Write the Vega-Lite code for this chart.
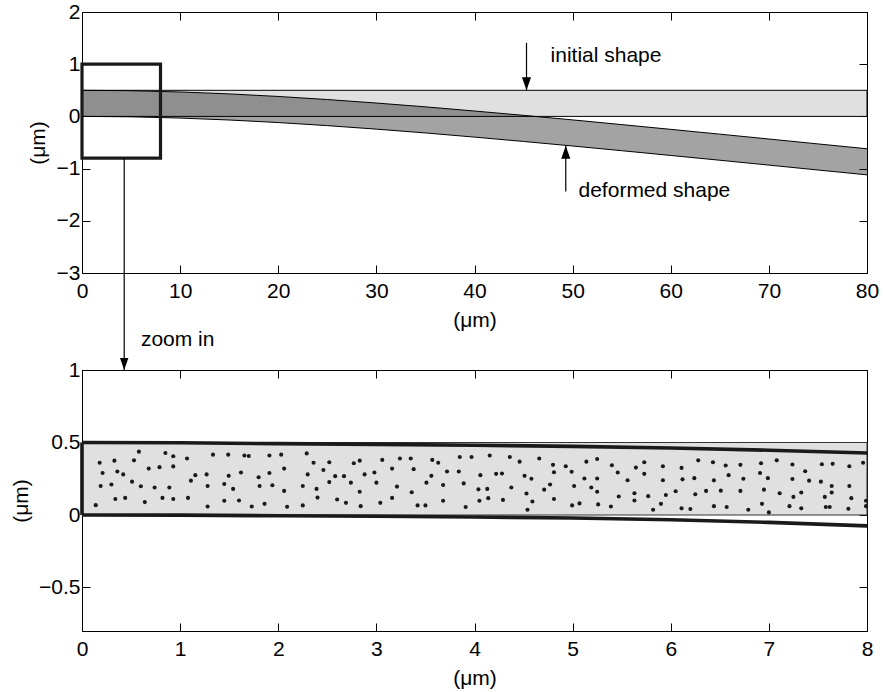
{
  "$schema": "https://vega.github.io/schema/vega-lite/v6.json",
  "background": "white",
  "padding": {"left": 10, "top": 1, "right": 2, "bottom": 2},
  "bounds": "flush",
  "spacing": 97,
  "datasets": {
    "topInitial": [{"x": 0, "x2": 80, "y": 0, "y2": 0.5}],
    "zoomBox": [{"x": 0, "x2": 8, "y": -0.8, "y2": 1}],
    "topBand": [
      {"x": 0, "y": 0, "y2": 0.5}, {"x": 5, "y": -0.008, "y2": 0.492}, {"x": 10, "y": -0.032, "y2": 0.468},
      {"x": 15, "y": -0.069, "y2": 0.431}, {"x": 20, "y": -0.118, "y2": 0.382}, {"x": 25, "y": -0.177, "y2": 0.323},
      {"x": 30, "y": -0.244, "y2": 0.256}, {"x": 35, "y": -0.317, "y2": 0.183}, {"x": 40, "y": -0.397, "y2": 0.103},
      {"x": 45, "y": -0.48, "y2": 0.02}, {"x": 50, "y": -0.567, "y2": -0.067}, {"x": 55, "y": -0.657, "y2": -0.157},
      {"x": 60, "y": -0.748, "y2": -0.248}, {"x": 65, "y": -0.84, "y2": -0.34}, {"x": 70, "y": -0.933, "y2": -0.433},
      {"x": 75, "y": -1.027, "y2": -0.527}, {"x": 80, "y": -1.12, "y2": -0.62}
    ],
    "topLines": [
      {"part": "lower", "x": 0, "y": 0}, {"part": "lower", "x": 5, "y": -0.008}, {"part": "lower", "x": 10, "y": -0.032},
      {"part": "lower", "x": 15, "y": -0.069}, {"part": "lower", "x": 20, "y": -0.118}, {"part": "lower", "x": 25, "y": -0.177},
      {"part": "lower", "x": 30, "y": -0.244}, {"part": "lower", "x": 35, "y": -0.317}, {"part": "lower", "x": 40, "y": -0.397},
      {"part": "lower", "x": 45, "y": -0.48}, {"part": "lower", "x": 50, "y": -0.567}, {"part": "lower", "x": 55, "y": -0.657},
      {"part": "lower", "x": 60, "y": -0.748}, {"part": "lower", "x": 65, "y": -0.84}, {"part": "lower", "x": 70, "y": -0.933},
      {"part": "lower", "x": 75, "y": -1.027}, {"part": "lower", "x": 80, "y": -1.12},
      {"part": "upper", "x": 0, "y": 0.5}, {"part": "upper", "x": 5, "y": 0.492}, {"part": "upper", "x": 10, "y": 0.468},
      {"part": "upper", "x": 15, "y": 0.431}, {"part": "upper", "x": 20, "y": 0.382}, {"part": "upper", "x": 25, "y": 0.323},
      {"part": "upper", "x": 30, "y": 0.256}, {"part": "upper", "x": 35, "y": 0.183}, {"part": "upper", "x": 40, "y": 0.103},
      {"part": "upper", "x": 45, "y": 0.02}, {"part": "upper", "x": 50, "y": -0.067}, {"part": "upper", "x": 55, "y": -0.157},
      {"part": "upper", "x": 60, "y": -0.248}, {"part": "upper", "x": 65, "y": -0.34}, {"part": "upper", "x": 70, "y": -0.433},
      {"part": "upper", "x": 75, "y": -0.527}, {"part": "upper", "x": 80, "y": -0.62}
    ],
    "topArrows": [
      {"x": 45.3, "y": 1.41, "y2": 0.5},
      {"x": 49.3, "y": -1.44, "y2": -0.56},
      {"x": 4.3, "y": -0.8, "y2": -4.858}
    ],
    "topHeads": [
      {"x": 45.3, "y": 0.5, "dir": "down"},
      {"x": 49.3, "y": -0.56, "dir": "up"}
    ],
    "topText": [
      {"x": 47.75, "y": 1.05, "text": "initial shape"},
      {"x": 50.6, "y": -1.54, "text": "deformed shape"}
    ],
    "botInitial": [{"x": 0, "x2": 8, "y": 0, "y2": 0.5}],
    "botLines": [
      {"part": "lower", "x": 0, "y": 0}, {"part": "lower", "x": 1, "y": -0.001}, {"part": "lower", "x": 2, "y": -0.005},
      {"part": "lower", "x": 3, "y": -0.009}, {"part": "lower", "x": 4, "y": -0.014}, {"part": "lower", "x": 5, "y": -0.021},
      {"part": "lower", "x": 6, "y": -0.033}, {"part": "lower", "x": 7, "y": -0.051}, {"part": "lower", "x": 8, "y": -0.075},
      {"part": "upper", "x": 0, "y": 0.5}, {"part": "upper", "x": 1, "y": 0.498}, {"part": "upper", "x": 2, "y": 0.492},
      {"part": "upper", "x": 3, "y": 0.487}, {"part": "upper", "x": 4, "y": 0.481}, {"part": "upper", "x": 5, "y": 0.473},
      {"part": "upper", "x": 6, "y": 0.462}, {"part": "upper", "x": 7, "y": 0.447}, {"part": "upper", "x": 8, "y": 0.428}
    ],
    "botEdge": [{"x": 0, "y": 0, "y2": 0.5}],
    "botHeads": [{"x": 0.43, "y": 1, "dir": "down"}],
    "botText": [{"x": 0.6, "y": 1.164, "text": "zoom in"}],
    "dots": [
      {"x":0.14,"y":0.068},{"x":0.18,"y":0.36},{"x":0.21,"y":0.29},{"x":0.19,"y":0.2},{"x":0.3,"y":0.21},{"x":0.33,"y":0.375},
      {"x":0.34,"y":0.11},{"x":0.36,"y":0.3},{"x":0.42,"y":0.28},{"x":0.44,"y":0.118},{"x":0.51,"y":0.23},{"x":0.53,"y":0.377},
      {"x":0.58,"y":0.437},{"x":0.6,"y":0.198},{"x":0.64,"y":0.089},{"x":0.68,"y":0.32},{"x":0.74,"y":0.19},{"x":0.79,"y":0.33},
      {"x":0.82,"y":0.118},{"x":0.85,"y":0.428},{"x":0.89,"y":0.19},{"x":0.93,"y":0.405},{"x":0.93,"y":0.335},{"x":0.93,"y":0.11},
      {"x":1.07,"y":0.39},{"x":1.08,"y":0.118},{"x":1.11,"y":0.237},{"x":1.155,"y":0.275},{"x":1.27,"y":0.28},{"x":1.28,"y":0.2},
      {"x":1.28,"y":0.059},{"x":1.335,"y":0.416},{"x":1.45,"y":0.214},{"x":1.45,"y":0.098},{"x":1.49,"y":0.416},{"x":1.495,"y":0.27},
      {"x":1.54,"y":0.18},{"x":1.6,"y":0.1},{"x":1.62,"y":0.293},{"x":1.655,"y":0.41},{"x":1.7,"y":0.407},{"x":1.73,"y":0.059},
      {"x":1.8,"y":0.26},{"x":1.81,"y":0.2},{"x":1.86,"y":0.077},{"x":1.91,"y":0.41},{"x":1.91,"y":0.29},{"x":1.94,"y":0.205},
      {"x":2.03,"y":0.416},{"x":2.06,"y":0.32},{"x":2.06,"y":0.166},{"x":2.09,"y":0.057},
      {"x":2.29,"y":0.425},{"x":2.36,"y":0.36},{"x":2.52,"y":0.364},{"x":2.46,"y":0.31},{"x":2.3,"y":0.28},{"x":2.58,"y":0.268},
      {"x":2.67,"y":0.268},{"x":2.25,"y":0.2},{"x":2.39,"y":0.18},{"x":2.52,"y":0.227},{"x":2.74,"y":0.223},{"x":2.25,"y":0.066},
      {"x":2.4,"y":0.12},{"x":2.6,"y":0.107},{"x":2.69,"y":0.084},{"x":2.84,"y":0.061},{"x":2.77,"y":0.357},{"x":2.83,"y":0.375},
      {"x":2.83,"y":0.16},{"x":2.88,"y":0.28},{"x":2.98,"y":0.293},{"x":3.0,"y":0.223},{"x":3.04,"y":0.084},{"x":3.06,"y":0.38},
      {"x":3.16,"y":0.32},{"x":3.21,"y":0.196},{"x":3.16,"y":0.118},{"x":3.24,"y":0.39},{"x":3.35,"y":0.39},{"x":3.38,"y":0.316},
      {"x":3.36,"y":0.157},{"x":3.42,"y":0.066},{"x":3.5,"y":0.066},{"x":3.51,"y":0.223},{"x":3.56,"y":0.27},{"x":3.57,"y":0.38},
      {"x":3.63,"y":0.36},{"x":3.68,"y":0.207},{"x":3.68,"y":0.098},{"x":3.72,"y":0.3},{"x":3.84,"y":0.3},{"x":3.85,"y":0.4},
      {"x":3.89,"y":0.218},{"x":3.91,"y":0.055},{"x":3.97,"y":0.4},{"x":4.04,"y":0.177},{"x":4.05,"y":0.098},{"x":4.06,"y":0.275},
      {"x":4.13,"y":0.18},{"x":4.14,"y":0.116},{"x":4.155,"y":0.41},{"x":4.22,"y":0.284},{"x":4.28,"y":0.286},{"x":4.29,"y":0.104},
      {"x":4.36,"y":0.4},{"x":4.375,"y":0.19},{"x":4.46,"y":0.368},{"x":4.51,"y":0.27},{"x":4.58,"y":0.25},{"x":4.53,"y":0.148},
      {"x":4.59,"y":0.093},{"x":4.54,"y":0.036},{"x":4.66,"y":0.39},{"x":4.71,"y":0.175},{"x":4.77,"y":0.21},{"x":4.8,"y":0.346},
      {"x":4.81,"y":0.295},{"x":4.81,"y":0.11},{"x":4.93,"y":0.336},{"x":4.99,"y":0.298},{"x":5.015,"y":0.2},{"x":4.995,"y":0.066},
      {"x":5.07,"y":0.08},{"x":5.12,"y":0.252},{"x":5.14,"y":0.368},{"x":5.19,"y":0.19},{"x":5.25,"y":0.386},{"x":5.25,"y":0.252},
      {"x":5.25,"y":0.16},{"x":5.26,"y":0.073},
      {"x":5.4,"y":0.343},{"x":5.46,"y":0.293},{"x":5.56,"y":0.24},{"x":5.39,"y":0.059},{"x":5.47,"y":0.128},{"x":5.645,"y":0.327},
      {"x":5.73,"y":0.364},{"x":5.73,"y":0.284},{"x":5.63,"y":0.15},{"x":5.63,"y":0.1},{"x":5.77,"y":0.13},{"x":5.82,"y":0.036},
      {"x":5.9,"y":0.077},{"x":5.92,"y":0.336},{"x":5.92,"y":0.24},{"x":5.95,"y":0.138},{"x":6.05,"y":0.164},{"x":6.11,"y":0.325},
      {"x":6.12,"y":0.246},{"x":6.11,"y":0.046},{"x":6.2,"y":0.041},{"x":6.24,"y":0.254},{"x":6.25,"y":0.143},{"x":6.28,"y":0.377},
      {"x":6.36,"y":0.166},{"x":6.43,"y":0.364},{"x":6.44,"y":0.239},{"x":6.44,"y":0.061},{"x":6.51,"y":0.168},{"x":6.56,"y":0.341},
      {"x":6.59,"y":0.275},{"x":6.57,"y":0.055},{"x":6.71,"y":0.346},{"x":6.71,"y":0.166},{"x":6.74,"y":0.25},{"x":6.79,"y":0.036},
      {"x":6.92,"y":0.357},{"x":6.91,"y":0.29},{"x":6.95,"y":0.175},{"x":6.93,"y":0.077},{"x":6.99,"y":0.254},{"x":7.0,"y":0.018},
      {"x":7.08,"y":0.377},{"x":7.11,"y":0.15},{"x":7.21,"y":0.061},{"x":7.24,"y":0.348},{"x":7.24,"y":0.248},{"x":7.25,"y":0.125},
      {"x":7.33,"y":0.155},{"x":7.33,"y":0.046},{"x":7.37,"y":0.302},{"x":7.41,"y":0.237},{"x":7.53,"y":0.23},{"x":7.54,"y":0.35},
      {"x":7.65,"y":0.353},{"x":7.64,"y":0.2},{"x":7.64,"y":0.155},{"x":7.57,"y":0.125},{"x":7.58,"y":0.055},{"x":7.62,"y":0.055},
      {"x":7.82,"y":0.336},{"x":7.82,"y":0.2},{"x":7.84,"y":0.116},{"x":7.81,"y":0.043},{"x":7.96,"y":0.36},{"x":7.99,"y":0.098},
      {"x":7.99,"y":0.061}
    ]
  },
  "vconcat": [
    {
      "width": 785,
      "height": 261,
      "layer": [
        {
          "encoding": {
            "x": {"field": "x", "type": "quantitative", "scale": {"domain": [0, 80]},
                  "axis": {"orient": "bottom", "values": [0, 10, 20, 30, 40, 50, 60, 70, 80], "title": "(μm)", "labelPadding": 15, "titlePadding": 8}},
            "y": {"field": "y", "type": "quantitative", "scale": {"domain": [-3, 2]},
                  "axis": {"orient": "left", "values": [-3, -2, -1, 0, 1, 2], "title": "(μm)", "labelPadding": 10, "titlePadding": 8}}
          },
          "layer": [
            {"data": {"name": "topInitial"}, "mark": {"type": "rect", "fill": "#e0e0e0", "stroke": "#000", "strokeWidth": 1},
             "encoding": {"x2": {"field": "x2"}, "y2": {"field": "y2"}}},
            {"data": {"name": "topBand"}, "mark": {"type": "area", "fill": "#000", "fillOpacity": 0.36, "opacity": 1},
             "encoding": {"y2": {"field": "y2"}}},
            {"data": {"name": "topLines"}, "mark": {"type": "line", "color": "#000", "strokeWidth": 1},
             "encoding": {"detail": {"field": "part"}}},
            {"data": {"name": "zoomBox"}, "mark": {"type": "rect", "fillOpacity": 0, "stroke": "#1a1a1a", "strokeWidth": 3.2},
             "encoding": {"x2": {"field": "x2"}, "y2": {"field": "y2"}}},
            {"data": {"name": "topArrows"}, "mark": {"type": "rule", "color": "#000", "strokeWidth": 1.2},
             "encoding": {"y2": {"field": "y2"}}},
            {"data": {"name": "topHeads"}, "mark": {"type": "point", "filled": true, "opacity": 1, "color": "#000", "size": 676},
             "encoding": {"shape": {"field": "dir", "type": "nominal", "legend": null,
               "scale": {"domain": ["down", "up"], "range": ["M-0.35,-1L0.35,-1L0,0Z", "M-0.35,1L0.35,1L0,0Z"]}}}},
            {"data": {"name": "topText"}, "mark": {"type": "text", "align": "left", "baseline": "alphabetic", "fontSize": 21, "font": "Liberation Sans", "color": "#000"},
             "encoding": {"text": {"field": "text"}}}
          ]
        },
        {
          "data": {"values": [{"x": 0, "y": 0}]},
          "mark": {"type": "point", "opacity": 0},
          "encoding": {
            "x": {"field": "x", "type": "quantitative", "scale": {"domain": [0, 80]},
                  "axis": {"orient": "top", "values": [0, 10, 20, 30, 40, 50, 60, 70, 80], "labels": false, "title": null}},
            "y": {"field": "y", "type": "quantitative", "scale": {"domain": [-3, 2]},
                  "axis": {"orient": "right", "values": [-3, -2, -1, 0, 1, 2], "labels": false, "title": null}}
          }
        }
      ],
      "resolve": {"axis": {"x": "independent", "y": "independent"}}
    },
    {
      "width": 785,
      "height": 261,
      "layer": [
        {
          "encoding": {
            "x": {"field": "x", "type": "quantitative", "scale": {"domain": [0, 8]},
                  "axis": {"orient": "bottom", "values": [0, 1, 2, 3, 4, 5, 6, 7, 8], "title": "(μm)", "labelPadding": 15, "titlePadding": 8}},
            "y": {"field": "y", "type": "quantitative", "scale": {"domain": [-0.8, 1]},
                  "axis": {"orient": "left", "values": [-0.5, 0, 0.5, 1], "format": "~g", "title": "(μm)", "labelPadding": 10, "titlePadding": 7}}
          },
          "layer": [
            {"data": {"name": "botInitial"}, "mark": {"type": "rect", "fill": "#e0e0e0", "stroke": "#333", "strokeWidth": 1},
             "encoding": {"x2": {"field": "x2"}, "y2": {"field": "y2"}}},
            {"data": {"name": "dots"}, "mark": {"type": "circle", "size": 17, "color": "#1a1a1a", "opacity": 1}},
            {"data": {"name": "botLines"}, "mark": {"type": "line", "color": "#1a1a1a", "strokeWidth": 3.6},
             "encoding": {"detail": {"field": "part"}}},
            {"data": {"name": "botEdge"}, "mark": {"type": "rule", "color": "#1a1a1a", "strokeWidth": 3.6},
             "encoding": {"y2": {"field": "y2"}}},
            {"data": {"name": "botHeads"}, "mark": {"type": "point", "filled": true, "opacity": 1, "color": "#000", "size": 576},
             "encoding": {"shape": {"field": "dir", "type": "nominal", "legend": null,
               "scale": {"domain": ["down", "up"], "range": ["M-0.35,-1L0.35,-1L0,0Z", "M-0.35,1L0.35,1L0,0Z"]}}}},
            {"data": {"name": "botText"}, "mark": {"type": "text", "align": "left", "baseline": "alphabetic", "fontSize": 21, "font": "Liberation Sans", "color": "#000"},
             "encoding": {"text": {"field": "text"}}}
          ]
        },
        {
          "data": {"values": [{"x": 0, "y": 0}]},
          "mark": {"type": "point", "opacity": 0},
          "encoding": {
            "x": {"field": "x", "type": "quantitative", "scale": {"domain": [0, 8]},
                  "axis": {"orient": "top", "values": [0, 1, 2, 3, 4, 5, 6, 7, 8], "labels": false, "title": null}},
            "y": {"field": "y", "type": "quantitative", "scale": {"domain": [-0.8, 1]},
                  "axis": {"orient": "right", "values": [-0.5, 0, 0.5, 1], "labels": false, "title": null}}
          }
        }
      ],
      "resolve": {"axis": {"x": "independent", "y": "independent"}}
    }
  ],
  "config": {
    "font": "Liberation Sans",
    "view": {"stroke": null},
    "axis": {
      "grid": false, "tickSize": -8, "tickColor": "#000", "tickWidth": 1,
      "domainColor": "#000", "domainWidth": 1,
      "labelColor": "#000", "titleColor": "#000",
      "labelFont": "Liberation Sans", "titleFont": "Liberation Sans",
      "labelFontSize": 21, "titleFontSize": 21, "titleFontWeight": "normal",
      "labelFlush": false
    }
  }
}
